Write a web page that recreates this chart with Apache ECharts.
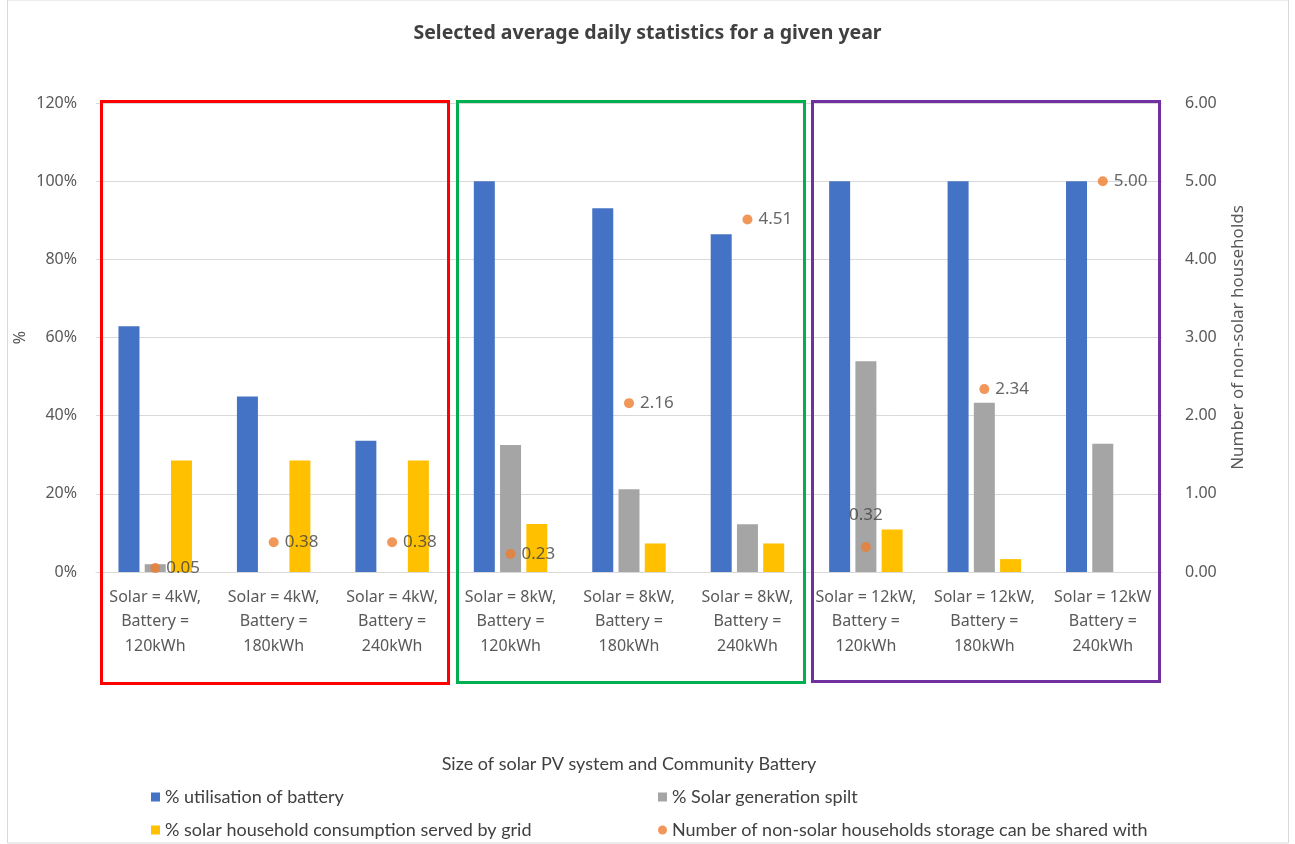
<!DOCTYPE html>
<html>
<head>
<meta charset="utf-8">
<script src="https://cdn.jsdelivr.net/npm/echarts@6/dist/echarts.min.js"></script>
<style>
  html, body { margin: 0; padding: 0; background: #fff; }
  #main { width: 1295px; height: 844px; }
</style>
</head>
<body>
<div id="main"></div>
<script>
// categories
var categories = [
    'Solar = 4kW,\nBattery =\n120kWh', 'Solar = 4kW,\nBattery =\n180kWh', 'Solar = 4kW,\nBattery =\n240kWh',
    'Solar = 8kW,\nBattery =\n120kWh', 'Solar = 8kW,\nBattery =\n180kWh', 'Solar = 8kW,\nBattery =\n240kWh',
    'Solar = 12kW,\nBattery =\n120kWh', 'Solar = 12kW,\nBattery =\n180kWh', 'Solar = 12kW\nBattery =\n240kWh'
];
// % values (left axis)
var batteryUtil = [62.9, 44.9, 33.6, 100, 93.1, 86.4, 100, 100, 100];
var solarSpilt = [2.0, 0, 0, 32.5, 21.2, 12.2, 53.9, 43.3, 32.8];
var gridServed = [28.5, 28.5, 28.5, 12.3, 7.3, 7.3, 10.9, 3.3, 0];
// households (right axis)
var households = [0.05, 0.38, 0.38, 0.23, 2.16, 4.51, 0.32, 2.34, 5.00];

var seriesNames = [
    '% utilisation of battery',
    '% Solar generation spilt',
    '% solar household consumption served by grid',
    'Number of non-solar households storage can be shared with'
];

var axisFont = 'Noto Sans';
var legendFont = 'Lato';
var textColor = '#595959';

var myChart = echarts.init(document.getElementById('main'));

// 0.32 的标签放在点上方
var scatterData = households.map(function (v, i) {
    if (i === 6) {
        return { value: v, label: { position: 'top', distance: 18 } };
    }
    return v;
});

function legendAt(name, left, top, icon) {
    return {
        data: [name],
        left: left,
        top: top,
        icon: icon,
        itemWidth: 9,
        itemHeight: 9,
        itemGap: 5,
        textStyle: { fontFamily: legendFont, fontSize: 18, color: '#404040' }
    };
}

var option = {
    animation: false,
    backgroundColor: '#fff',
    title: {
        text: 'Selected average daily statistics for a given year',
        left: 'center',
        top: 18,
        textStyle: { fontFamily: axisFont, fontSize: 19.5, fontWeight: 'bold', color: '#404040' }
    },
    legend: [
        legendAt(seriesNames[0], 146, 783, 'rect'),
        legendAt(seriesNames[1], 653, 783, 'rect'),
        legendAt(seriesNames[2], 146, 816, 'rect'),
        legendAt(seriesNames[3], 653, 816, 'circle')
    ],
    grid: {
        left: 96,
        right: 133,
        top: 103,
        bottom: 272,
        containLabel: false,
        outerBoundsMode: 'none'
    },
    xAxis: {
        type: 'category',
        data: categories,
        name: 'Size of solar PV system and Community Battery',
        nameLocation: 'middle',
        nameGap: 183,
        nameTextStyle: { fontFamily: legendFont, fontSize: 18, color: '#404040' },
        axisLine: { lineStyle: { color: '#d9d9d9' } },
        axisTick: { show: false },
        axisLabel: {
            interval: 0,
            margin: 13,
            lineHeight: 24.5,
            fontFamily: axisFont,
            fontSize: 16,
            color: textColor
        }
    },
    yAxis: [
        {
            type: 'value',
            min: 0,
            max: 120,
            interval: 20,
            name: '%',
            nameLocation: 'middle',
            nameGap: 68,
            nameMoveOverlap: false,
            nameTextStyle: { fontFamily: axisFont, fontSize: 16, color: textColor },
            axisLine: { show: false },
            axisTick: { show: false },
            axisLabel: { formatter: '{value}%', margin: 19, fontFamily: axisFont, fontSize: 16, color: textColor },
            splitLine: { lineStyle: { color: '#d9d9d9' } }
        },
        {
            type: 'value',
            min: 0,
            max: 6,
            interval: 1,
            name: 'Number of non-solar households',
            nameLocation: 'middle',
            nameGap: 68,
            nameTextStyle: { fontFamily: axisFont, fontSize: 17, color: textColor },
            axisLine: { show: false },
            axisTick: { show: false },
            axisLabel: {
                formatter: function (v) { return v.toFixed(2); },
                margin: 23,
                fontFamily: axisFont,
                fontSize: 16,
                color: textColor
            },
            splitLine: { show: false }
        }
    ],
    series: [
        {
            name: seriesNames[0],
            type: 'bar',
            data: batteryUtil,
            barWidth: 21,
            barGap: '25%',
            itemStyle: { color: '#4472C4' }
        },
        {
            name: seriesNames[1],
            type: 'bar',
            data: solarSpilt,
            barWidth: 21,
            barGap: '25%',
            itemStyle: { color: '#A5A5A5' }
        },
        {
            name: seriesNames[2],
            type: 'bar',
            data: gridServed,
            barWidth: 21,
            barGap: '25%',
            itemStyle: { color: '#FFC000' }
        },
        {
            name: seriesNames[3],
            type: 'scatter',
            yAxisIndex: 1,
            data: scatterData,
            symbolSize: 10,
            itemStyle: { color: '#ED7D31' },
            label: {
                show: true,
                position: 'right',
                distance: 6,
                formatter: function (p) { return p.value.toFixed(2); },
                fontFamily: axisFont,
                fontSize: 17,
                color: '#404040'
            },
            z: 5
        }
    ],
    graphic: [
        // 图表外框
        { type: 'rect', shape: { x: 7.5, y: 0, width: 1281, height: 843 }, style: { fill: 'none', stroke: '#d9d9d9', lineWidth: 1 }, silent: true },
        // 分组框
        { type: 'rect', shape: { x: 101.5, y: 101.5, width: 347, height: 582 }, style: { fill: 'none', stroke: '#FF0000', lineWidth: 3 }, silent: true, z: 10 },
        { type: 'rect', shape: { x: 457.5, y: 101.5, width: 347, height: 581 }, style: { fill: 'none', stroke: '#00B050', lineWidth: 3 }, silent: true, z: 10 },
        { type: 'rect', shape: { x: 812.5, y: 101.5, width: 347, height: 580 }, style: { fill: 'none', stroke: '#7030A0', lineWidth: 3 }, silent: true, z: 10 }
    ]
};

option && myChart.setOption(option);
window.addEventListener('resize', myChart.resize);
</script>
</body>
</html>
